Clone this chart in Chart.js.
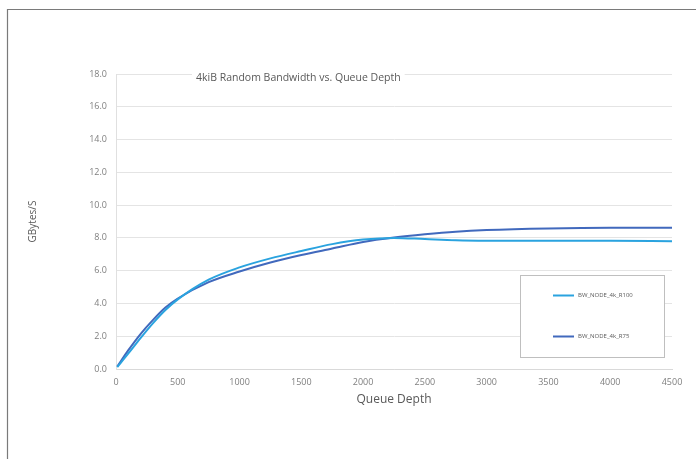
<!DOCTYPE html>
<html>
<head>
<meta charset="utf-8">
<script src="https://cdn.jsdelivr.net/npm/chart.js@4/dist/chart.umd.min.js"></script>
<style>
html,body{margin:0;padding:0;background:#fff;}
#wrap{position:relative;width:696px;height:459px;}
</style>
</head>
<body>
<div id="wrap"><canvas id="c" width="696" height="459"></canvas></div>
<script>
// ---- data ----
const chartTitle = "4kiB Random Bandwidth vs. Queue Depth";
const xTitle = "Queue Depth";
const yTitle = "GBytes/S";
const seriesNames = ["BW_NODE_4k_R100", "BW_NODE_4k_R75"];
const queueDepth = [10, 100, 200, 300, 400, 500, 750, 1000, 1250, 1500, 1750, 2000, 2250, 2500, 2750, 3000, 3500, 4000, 4500];
const bwR100 = [0.12, 0.95, 1.9, 2.8, 3.6, 4.25, 5.45, 6.2, 6.75, 7.2, 7.62, 7.9, 8.0, 7.93, 7.86, 7.83, 7.82, 7.82, 7.8];
const bwR75  = [0.15, 1.15, 2.15, 3.0, 3.75, 4.3, 5.3, 5.95, 6.5, 6.95, 7.35, 7.75, 8.02, 8.22, 8.38, 8.48, 8.58, 8.62, 8.62];
const xTicks = [0, 500, 1000, 1500, 2000, 2500, 3000, 3500, 4000, 4500];
const yTicks = [0, 2, 4, 6, 8, 10, 12, 14, 16, 18];

const colors = ["#2aa3df", "#4169bd"];
const FONT = "'Open Sans', 'DejaVu Sans', sans-serif";

const toPts = (xs, ys) => xs.map((x, i) => ({x: x, y: ys[i]}));

const framePlugin = {
  id: 'frame',
  beforeDraw(chart) {
    const ctx = chart.ctx;
    ctx.save();
    ctx.fillStyle = '#fff';
    ctx.fillRect(0, 0, chart.width, chart.height);
    ctx.strokeStyle = '#7a7a7a';
    ctx.lineWidth = 1.2;
    ctx.beginPath();
    ctx.moveTo(7.5, chart.height);
    ctx.lineTo(7.5, 9.5);
    ctx.lineTo(chart.width, 9.5);
    ctx.stroke();
    ctx.restore();
  }
};

const overlayPlugin = {
  id: 'overlay',
  afterDraw(chart) {
    const ctx = chart.ctx;
    const ca = chart.chartArea;
    ctx.save();
    // title over top gridline
    ctx.font = "10.5px " + FONT;
    const tw = ctx.measureText(chartTitle).width;
    const tx = 196, ty = 78;
    ctx.fillStyle = '#fff';
    ctx.fillRect(tx - 4, ca.top - 2, tw + 8, 6);
    ctx.fillStyle = '#595959';
    ctx.textBaseline = 'middle';
    ctx.textAlign = 'left';
    ctx.fillText(chartTitle, tx, ty);
    // legend box
    const bx = 520.5, by = 275.5, bw = 144, bh = 82;
    ctx.fillStyle = '#fff';
    ctx.fillRect(bx, by, bw, bh);
    ctx.strokeStyle = '#bfbfbf';
    ctx.lineWidth = 1;
    ctx.strokeRect(bx, by, bw, bh);
    const rows = [295.5, 336.5];
    chart.data.datasets.forEach((ds, i) => {
      ctx.strokeStyle = ds.borderColor;
      ctx.lineWidth = 2;
      ctx.beginPath();
      ctx.moveTo(553, rows[i]);
      ctx.lineTo(574, rows[i]);
      ctx.stroke();
      ctx.fillStyle = '#595959';
      ctx.font = "6px " + FONT;
      ctx.textBaseline = 'middle';
      ctx.fillText(ds.label, 578, rows[i]);
    });
    ctx.restore();
  }
};

new Chart(document.getElementById('c'), {
  type: 'line',
  data: {
    datasets: [
      {label: seriesNames[0], data: toPts(queueDepth, bwR100), borderColor: colors[0], backgroundColor: colors[0], borderWidth: 2, pointRadius: 0, cubicInterpolationMode: 'monotone', fill: false},
      {label: seriesNames[1], data: toPts(queueDepth, bwR75), borderColor: colors[1], backgroundColor: colors[1], borderWidth: 2, pointRadius: 0, cubicInterpolationMode: 'monotone', fill: false}
    ]
  },
  options: {
    responsive: false,
    animation: false,
    layout: {padding: {left: 0, right: 24, top: 74, bottom: 0}},
    plugins: {legend: {display: false}, title: {display: false}, tooltip: {enabled: false}},
    scales: {
      x: {
        type: 'linear', min: 0, max: 4500,
        afterBuildTicks: s => { s.ticks = xTicks.map(v => ({value: v})); },
        afterFit: s => { s.height = 90; },
        grid: {drawOnChartArea: false, drawTicks: false},
        border: {display: true, color: '#d9d9d9', width: 1},
        ticks: {padding: 8, color: '#7f7f7f', font: {size: 9, family: FONT}, maxRotation: 0, autoSkip: false, callback: v => String(v)},
        title: {display: true, text: xTitle, color: '#595959', font: {size: 12, family: FONT}, padding: {bottom: 52}}
      },
      y: {
        min: 0, max: 18,
        afterBuildTicks: s => { s.ticks = yTicks.map(v => ({value: v})); },
        afterFit: s => { s.width = 116; },
        grid: {color: '#e4e4e4', drawTicks: false},
        border: {display: true, color: '#e0e0e0', width: 1},
        ticks: {padding: 9, color: '#7f7f7f', font: {size: 9, family: FONT}, callback: v => v.toFixed(1)},
        title: {display: true, text: yTitle, color: '#595959', font: {size: 10, family: FONT}, padding: {top: 27}}
      }
    }
  },
  plugins: [framePlugin, overlayPlugin]
});
</script>
</body>
</html>
